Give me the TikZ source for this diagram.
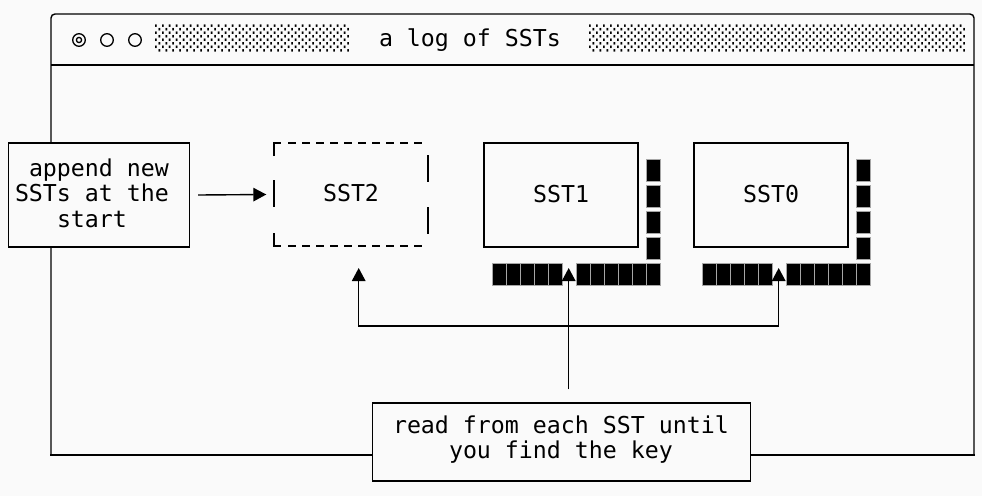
\documentclass[tikz,border=0pt]{standalone}
\usepackage{fontspec}
\newfontfamily\mono{DejaVu Sans Mono}
\usetikzlibrary{arrows.meta}
\definecolor{bg}{RGB}{250,250,250}
\begin{document}
\begin{tikzpicture}[x=1pt,y=-1pt,line width=1.4pt,
  lbl/.style={font=\mono\fontsize{23.25}{26}\selectfont,inner sep=0pt,outer sep=0pt},
  boxnode/.style={draw,fill=bg,inner sep=0pt},
  sstbox/.style={boxnode,minimum width=154pt,minimum height=104pt,
    font=\mono\fontsize{23.25}{26}\selectfont,text height=14pt,text depth=0pt},
  blk/.style={fill=black,draw=gray!70,line width=0.3pt},
  tip/.style={-{Triangle[length=13pt,width=13.5pt]}}]
\fill[bg] (0,0) rectangle (982,496);
\useasboundingbox (0,0) rectangle (982,496);
% window frame
\draw[rounded corners=4pt] (51,455) -- (51,14) -- (974,14) -- (974,455);
\draw[line cap=rect] (51,455) -- (974,455);
\draw (51,65) -- (974,65);
% title bar
\draw[line width=1.3pt] (79,40) circle (6.3pt);
\draw[line width=1.3pt] (79,40) circle (2.6pt);
\draw[line width=1.3pt] (107,40) circle (6.3pt);
\draw[line width=1.3pt] (135,40) circle (6.3pt);
\node[lbl,anchor=base west] (band1) at (155,46) {░░░░░░░░░░░░░░};
\node[lbl,anchor=base west] (title) at (379,46) {a log of SSTs};
\node[lbl,anchor=base west] (band2) at (589,46) {░░░░░░░░░░░░░░░░░░░░░░░░░░░};
% append box
\node[boxnode,minimum width=181pt,minimum height=104pt] (app) at (99,195) {};
\node[lbl,anchor=base west] (app1) at (29,176) {append new};
\node[lbl,anchor=base west] (app2) at (15,201.5) {SSTs at the};
\node[lbl,anchor=base west] (app3) at (57,227) {start};
% SST boxes
\node[sstbox,draw=none,fill=none] (s2) at (351,194.5) {SST2};
\node[sstbox] (s1) at (561,195) {SST1};
\node[sstbox] (s0) at (771,195) {SST0};
% dashed SST2 outline
\draw (274,156) -- (274,143) -- (281,143);
\draw[dash pattern=on 8pt off 6pt] (288,143) -- (424,143);
\draw (274,180) -- (274,207);
\draw (274,233) -- (274,246) -- (281,246);
\draw[dash pattern=on 8pt off 6pt] (288,246) -- (424,246);
\draw (428,155) -- (428,182);
\draw (428,207) -- (428,234);
% block stacks
\foreach \b in {176,202,228,254}{
  \draw[blk] (646,\b-17.3) rectangle (660,\b+5.3);
  \draw[blk] (856,\b-17.3) rectangle (870,\b+5.3);
}
\foreach \i in {0,1,2,3,4,6,7,8,9,10,11}{
  \draw[blk] (492+14*\i,262.7) rectangle (506+14*\i,285.3);
  \draw[blk] (702+14*\i,262.7) rectangle (716+14*\i,285.3);
}
% read box
\node[boxnode,minimum width=378pt,minimum height=78pt] (rd) at (561.5,442) {};
\node[lbl,anchor=base west] (rd1) at (393,433) {read from each SST until};
\node[lbl,anchor=base west] (rd2) at (449,458) {you find the key};
% connectors
\draw[tip] ([xshift=8pt]app.east) -- ([xshift=-7pt]s2.west);
\coordinate (a2) at (358.7,268);
\coordinate (a1) at (568.7,268);
\coordinate (a0) at (778.7,268);
\coordinate (fork) at (568.7,326);
\draw[tip] ([yshift=13pt]rd.north -| a1) -- (a1);
\draw[tip] (fork) -- (a2 |- fork) -- (a2);
\draw[tip] (fork) -- (a0 |- fork) -- (a0);
\end{tikzpicture}
\end{document}
